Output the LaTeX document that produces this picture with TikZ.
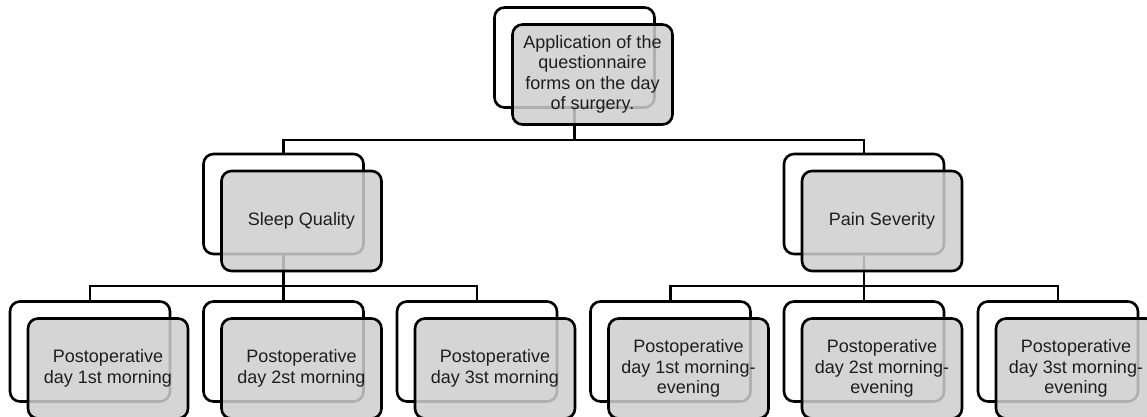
\documentclass[tikz,border=0pt]{standalone}
\usepackage{fontspec}
\setmainfont{Liberation Sans}
\usetikzlibrary{calc}

\definecolor{boxgray}{RGB}{206,206,206}
\definecolor{textgray}{RGB}{30,30,30}

\tikzset{
	back/.style={draw, line width=1.3pt, rounded corners=5pt, fill=white,
		minimum width=80pt, minimum height=50pt, inner sep=0pt},
	front/.style={back, fill=boxgray, fill opacity=0.85, text opacity=1,
		text=textgray, align=center, font=\fontsize{9}{10.2}\selectfont},
	link/.style={line width=1.2pt},
}

\begin{document}
\begin{tikzpicture}[x=0.5pt,y=-0.5pt]

	% parameters
	\def\dx{18}
	\def\dy{17}
	\def\rowy{351.5}

	% frame
	\clip (0,0) rectangle (1147,417);
	\useasboundingbox (0,0) rectangle (1147,417);

	% back boxes
	\node[back] (bTop) at (574.5,57.5) {};
	\node[back] (bSleep) at (283.5,204) {};
	\node[back] (bPain) at (864,204) {};
	\foreach \i/\x in {1/90,2/283.5,3/477} {
		\node[back] (bS\i) at (\x,\rowy) {};
	}
	\foreach \i/\x in {1/670.5,2/864,3/1058} {
		\node[back] (bP\i) at (\x,\rowy) {};
	}

	% connectors
	\coordinate (busA) at (0,140);
	\coordinate (busB) at (0,286);
	\draw[link] (bTop.south) -- (bTop.south |- busA) -| (bSleep.north);
	\draw[link] (bTop.south |- busA) -| (bPain.north);
	\foreach \i in {1,2,3} {
		\draw[link] (bSleep.south) -- (bSleep.south |- busB) -| (bS\i.north);
		\draw[link] (bPain.south) -- (bPain.south |- busB) -| (bP\i.north);
	}

	% front boxes
	\node[front] (fTop) at ($(bTop)+(\dx,\dy)$)
		{Application of the\\questionnaire\\forms on the day\\of surgery.};
	\node[front] (fSleep) at ($(bSleep)+(\dx,\dy)$) {Sleep Quality};
	\node[front] (fPain) at ($(bPain)+(\dx,\dy)$) {Pain Severity};
	\foreach \i in {1,2,3} {
		\node[front] (fS\i) at ($(bS\i)+(\dx,\dy)$)
			{Postoperative\\day \i st morning};
		\node[front] (fP\i) at ($(bP\i)+(\dx,\dy)$)
			{Postoperative\\day \i st morning-\\evening};
	}

\end{tikzpicture}
\end{document}
